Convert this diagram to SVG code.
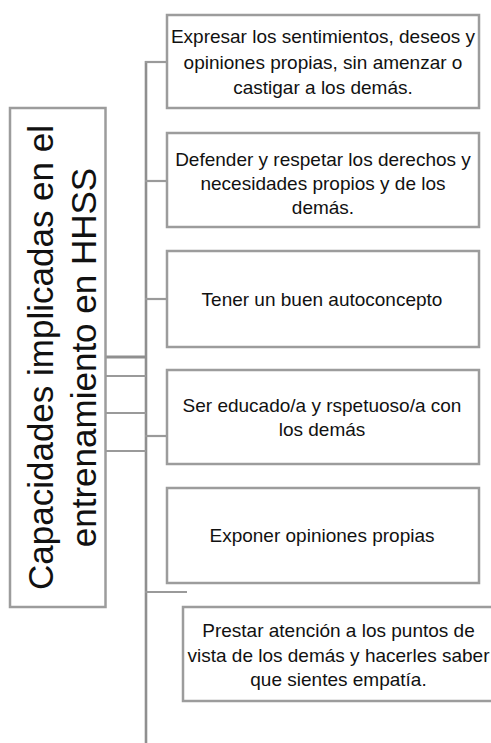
<svg xmlns="http://www.w3.org/2000/svg" width="491" height="743" viewBox="0 0 491 743">
  <style>
    .box { fill: #ffffff; stroke: #9c9c9c; stroke-width: 2.5; }
    .conn { stroke: #9a9a9a; stroke-width: 2.2; fill: none; }
    .t { font-family: "Liberation Sans", Arial, sans-serif; font-size: 19px; fill: #111111; text-anchor: middle; }
    .big { font-family: "Liberation Sans", Arial, sans-serif; font-size: 35px; fill: #111111; text-anchor: middle; }
  </style>
  <rect width="491" height="743" fill="#ffffff"/>
  <g id="connectors">
    <line class="conn" x1="146" y1="61" x2="146" y2="743" style="stroke:#8f8f8f;stroke-width:2.6"/>
    <line class="conn" x1="145" y1="62" x2="167" y2="62"/>
    <line class="conn" x1="145" y1="181" x2="167" y2="181"/>
    <line class="conn" x1="145" y1="299" x2="167" y2="299"/>
    <line class="conn" x1="145" y1="436" x2="167" y2="436"/>
    <line class="conn" x1="145" y1="592" x2="187" y2="592"/>
    <line class="conn" x1="105" y1="357" x2="146" y2="357" style="stroke:#8f8f8f;stroke-width:3"/>
    <line class="conn" x1="105" y1="376" x2="146" y2="376"/>
    <line class="conn" x1="105" y1="413" x2="146" y2="413"/>
    <line class="conn" x1="105" y1="451" x2="146" y2="451"/>
  </g>
  <g id="root">
    <rect class="box" x="10" y="108" width="95.5" height="499"/>
    <text class="big" transform="translate(53,357.5) rotate(-90)">Capacidades implicadas en el</text>
    <text class="big" transform="translate(96,357.5) rotate(-90)">entrenamiento en HHSS</text>
  </g>
  <g id="n1">
    <rect class="box" x="167" y="15" width="312" height="93"/>
    <text class="t" x="323" y="43">Expresar los sentimientos, deseos y</text>
    <text class="t" x="323" y="69">opiniones propias, sin amenzar o</text>
    <text class="t" x="323" y="94">castigar a los demás.</text>
  </g>
  <g id="n2">
    <rect class="box" x="167" y="133" width="312" height="94"/>
    <text class="t" x="323" y="165.5">Defender y respetar los derechos y</text>
    <text class="t" x="323" y="190">necesidades propios y de los</text>
    <text class="t" x="323" y="214">demás.</text>
  </g>
  <g id="n3">
    <rect class="box" x="167" y="251" width="312" height="96"/>
    <text class="t" x="322" y="305.5">Tener un buen autoconcepto</text>
  </g>
  <g id="n4">
    <rect class="box" x="167" y="370" width="312" height="94"/>
    <text class="t" x="322" y="411.5">Ser educado/a y rspetuoso/a con</text>
    <text class="t" x="322" y="435.5">los demás</text>
  </g>
  <g id="n5">
    <rect class="box" x="167" y="488" width="312" height="95"/>
    <text class="t" x="322" y="541.5">Exponer opiniones propias</text>
  </g>
  <g id="n6">
    <rect class="box" x="183" y="607" width="312" height="94"/>
    <text class="t" x="338.5" y="637">Prestar atención a los puntos de</text>
    <text class="t" x="338.5" y="661.5">vista de los demás y hacerles saber</text>
    <text class="t" x="338.5" y="685.5">que sientes empatía.</text>
  </g>
</svg>
